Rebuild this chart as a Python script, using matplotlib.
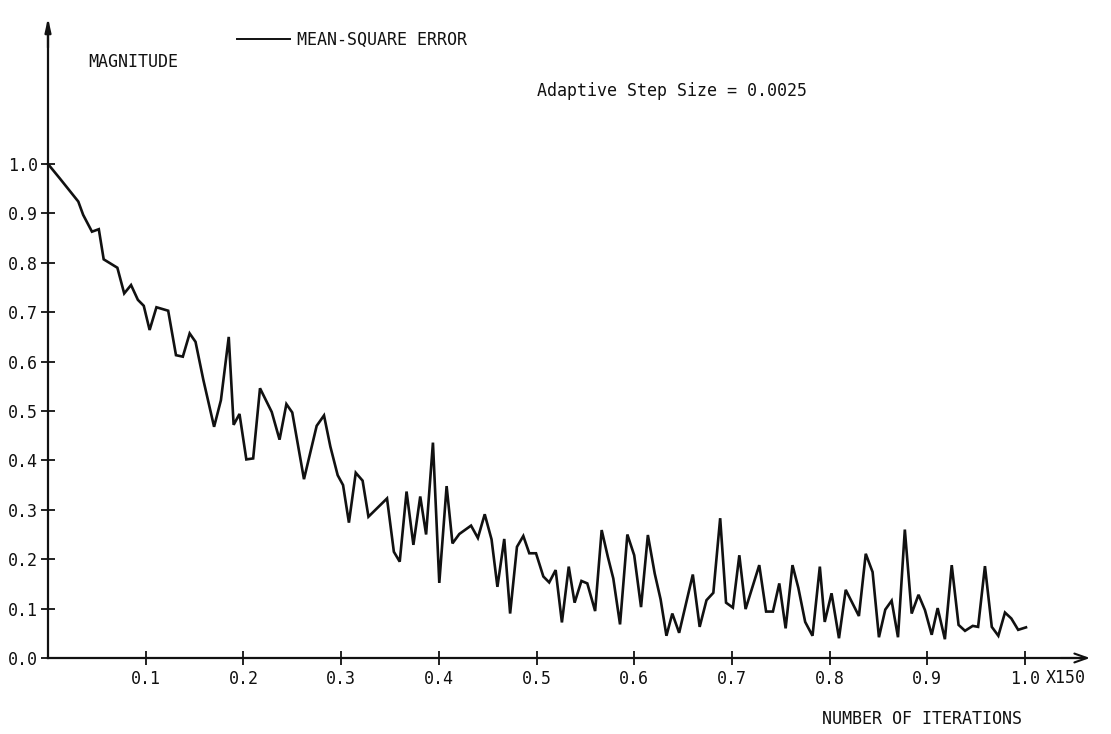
import matplotlib
matplotlib.use("Agg")
import matplotlib.pyplot as plt
from matplotlib.lines import Line2D

# ---- data ----
iter_frac = [0.000, 0.012, 0.031, 0.036, 0.045, 0.052, 0.057, 0.071, 0.078, 0.085,
             0.092, 0.098, 0.104, 0.111, 0.123, 0.131, 0.138, 0.145, 0.151, 0.159,
             0.170, 0.177, 0.185, 0.190, 0.196, 0.203, 0.210, 0.217, 0.229, 0.237,
             0.244, 0.250, 0.262, 0.275, 0.2825, 0.289, 0.2965, 0.302, 0.308, 0.315,
             0.322, 0.328, 0.347, 0.354, 0.360, 0.367, 0.374, 0.381, 0.387, 0.394,
             0.4005, 0.408, 0.414, 0.421, 0.433, 0.440, 0.447, 0.454, 0.460, 0.467,
             0.473, 0.480, 0.4865, 0.4926, 0.4995, 0.507, 0.513, 0.5196, 0.526, 0.533,
             0.539, 0.546, 0.552, 0.560, 0.5667, 0.573, 0.5786, 0.5855, 0.593, 0.600,
             0.607, 0.614, 0.621, 0.627, 0.633, 0.639, 0.646, 0.660, 0.667, 0.674,
             0.681, 0.688, 0.694, 0.701, 0.7076, 0.714, 0.728, 0.735, 0.742, 0.7485,
             0.755, 0.762, 0.768, 0.775, 0.7825, 0.790, 0.795, 0.802, 0.8096, 0.8165,
             0.830, 0.837, 0.844, 0.8505, 0.857, 0.8635, 0.870, 0.877, 0.884, 0.891,
             0.8976, 0.9045, 0.9106, 0.918, 0.925, 0.932, 0.9386, 0.9465, 0.952, 0.959,
             0.966, 0.9727, 0.9795, 0.986, 0.993, 1.001]
mse = [1.000, 0.971, 0.924, 0.897, 0.863, 0.868, 0.807, 0.790, 0.738, 0.755,
       0.725, 0.713, 0.664, 0.710, 0.703, 0.613, 0.610, 0.657, 0.640, 0.563,
       0.468, 0.522, 0.650, 0.472, 0.494, 0.402, 0.404, 0.546, 0.498, 0.442,
       0.514, 0.497, 0.362, 0.470, 0.491, 0.428, 0.370, 0.350, 0.274, 0.375,
       0.359, 0.286, 0.323, 0.215, 0.195, 0.337, 0.229, 0.327, 0.250, 0.436,
       0.152, 0.348, 0.232, 0.251, 0.268, 0.243, 0.291, 0.240, 0.144, 0.241,
       0.090, 0.225, 0.247, 0.212, 0.212, 0.165, 0.153, 0.178, 0.072, 0.185,
       0.112, 0.156, 0.151, 0.095, 0.259, 0.205, 0.161, 0.068, 0.250, 0.208,
       0.103, 0.249, 0.171, 0.119, 0.045, 0.090, 0.051, 0.169, 0.063, 0.117,
       0.132, 0.283, 0.112, 0.102, 0.208, 0.099, 0.188, 0.094, 0.094, 0.151,
       0.060, 0.188, 0.142, 0.073, 0.045, 0.185, 0.073, 0.131, 0.040, 0.138,
       0.085, 0.211, 0.174, 0.042, 0.098, 0.116, 0.042, 0.260, 0.090, 0.128,
       0.097, 0.047, 0.101, 0.038, 0.188, 0.067, 0.055, 0.065, 0.063, 0.186,
       0.063, 0.045, 0.092, 0.080, 0.057, 0.062]

xticks = [0.1, 0.2, 0.3, 0.4, 0.5, 0.6, 0.7, 0.8, 0.9, 1.0]
xtick_labels = ["0.1", "0.2", "0.3", "0.4", "0.5", "0.6", "0.7", "0.8", "0.9", "1.0"]
yticks = [0.0, 0.1, 0.2, 0.3, 0.4, 0.5, 0.6, 0.7, 0.8, 0.9, 1.0]
ytick_labels = ["0.0", "0.1", "0.2", "0.3", "0.4", "0.5", "0.6", "0.7", "0.8", "0.9", "1.0"]

series_label = "MEAN-SQUARE ERROR"
ylabel = "MAGNITUDE"
xlabel = "NUMBER OF ITERATIONS"
x_scale_note = "X150"
annotation = "Adaptive Step Size = 0.0025"

# ---- layout (pixel geometry of the 1111x734 page) ----
W, H = 1111, 734
X0, X1 = 48, 1025      # pixel x of 0.0 and 1.0
Y0, Y1 = 658, 164      # pixel y of 0.0 and 1.0
sx = (X1 - X0)
sy = (Y0 - Y1)

def px2data(px, py):
    return (px - X0) / sx, (Y0 - py) / sy

FONT = "DejaVu Sans Mono"
FS = 12
INK = "#111111"

fig = plt.figure(figsize=(W / 100, H / 100), dpi=100)
ax = fig.add_axes([0, 0, 1, 1])
ax.set_xlim(-X0 / sx, (W - X0) / sx)
ax.set_ylim(-(H - Y0) / sy, Y0 / sy)
ax.patch.set_alpha(0)

xtip, _ = px2data(1090, 0)
_, ytip = px2data(0, 18)

for side in ("top", "right"):
    ax.spines[side].set_visible(False)
ax.spines["left"].set_position(("data", 0))
ax.spines["bottom"].set_position(("data", 0))
ax.spines["left"].set_bounds(0, ytip - 0.01)
ax.spines["bottom"].set_bounds(0, xtip - 0.005)
for side in ("left", "bottom"):
    ax.spines[side].set_linewidth(1.6)
    ax.spines[side].set_color(INK)

# axis arrow heads
ax.annotate("", xy=(0, ytip), xytext=(0, ytip - 0.06),
            arrowprops=dict(arrowstyle="-|>,head_length=0.8,head_width=0.18",
                            color=INK, lw=1.6, shrinkA=0, shrinkB=0))
ax.annotate("", xy=(xtip, 0), xytext=(xtip - 0.03, 0),
            arrowprops=dict(arrowstyle="->,head_length=0.9,head_width=0.32",
                            color=INK, lw=1.5, shrinkA=0, shrinkB=0))

ax.set_xticks(xticks)
ax.set_xticklabels(xtick_labels, fontfamily=FONT, fontsize=FS, color=INK)
ax.set_yticks(yticks)
ax.set_yticklabels(ytick_labels, fontfamily=FONT, fontsize=FS, color=INK)
ax.tick_params(axis="both", direction="inout", length=10, width=1.3, color=INK)
ax.tick_params(axis="x", pad=4)
ax.tick_params(axis="y", pad=2)

ax.plot(iter_frac, mse, color=INK, lw=1.9, solid_joinstyle="miter")

# texts
tx, ty = px2data(1046, 678)
ax.text(tx, ty, x_scale_note, fontfamily=FONT, fontsize=FS, color=INK,
        ha="left", va="center")
tx, ty = px2data(822, 719)
ax.text(tx, ty, xlabel, fontfamily=FONT, fontsize=FS, color=INK,
        ha="left", va="center")
tx, ty = px2data(88, 62)
ax.text(tx, ty, ylabel, fontfamily=FONT, fontsize=FS, color=INK,
        ha="left", va="center")
tx, ty = px2data(537, 91)
ax.text(tx, ty, annotation, fontfamily=FONT, fontsize=FS, color=INK,
        ha="left", va="center")

# legend entry
lx0, ly = px2data(237, 40)
ax.legend(handles=[Line2D([], [], color=INK, lw=1.4, label=series_label)],
          loc="center left", bbox_to_anchor=(lx0, ly), bbox_transform=ax.transData,
          frameon=False, handlelength=3.2, handletextpad=0.4, borderpad=0,
          borderaxespad=0, prop=dict(family=FONT, size=FS), labelcolor=INK)

fig.savefig("out.png", dpi=100, facecolor="white")
